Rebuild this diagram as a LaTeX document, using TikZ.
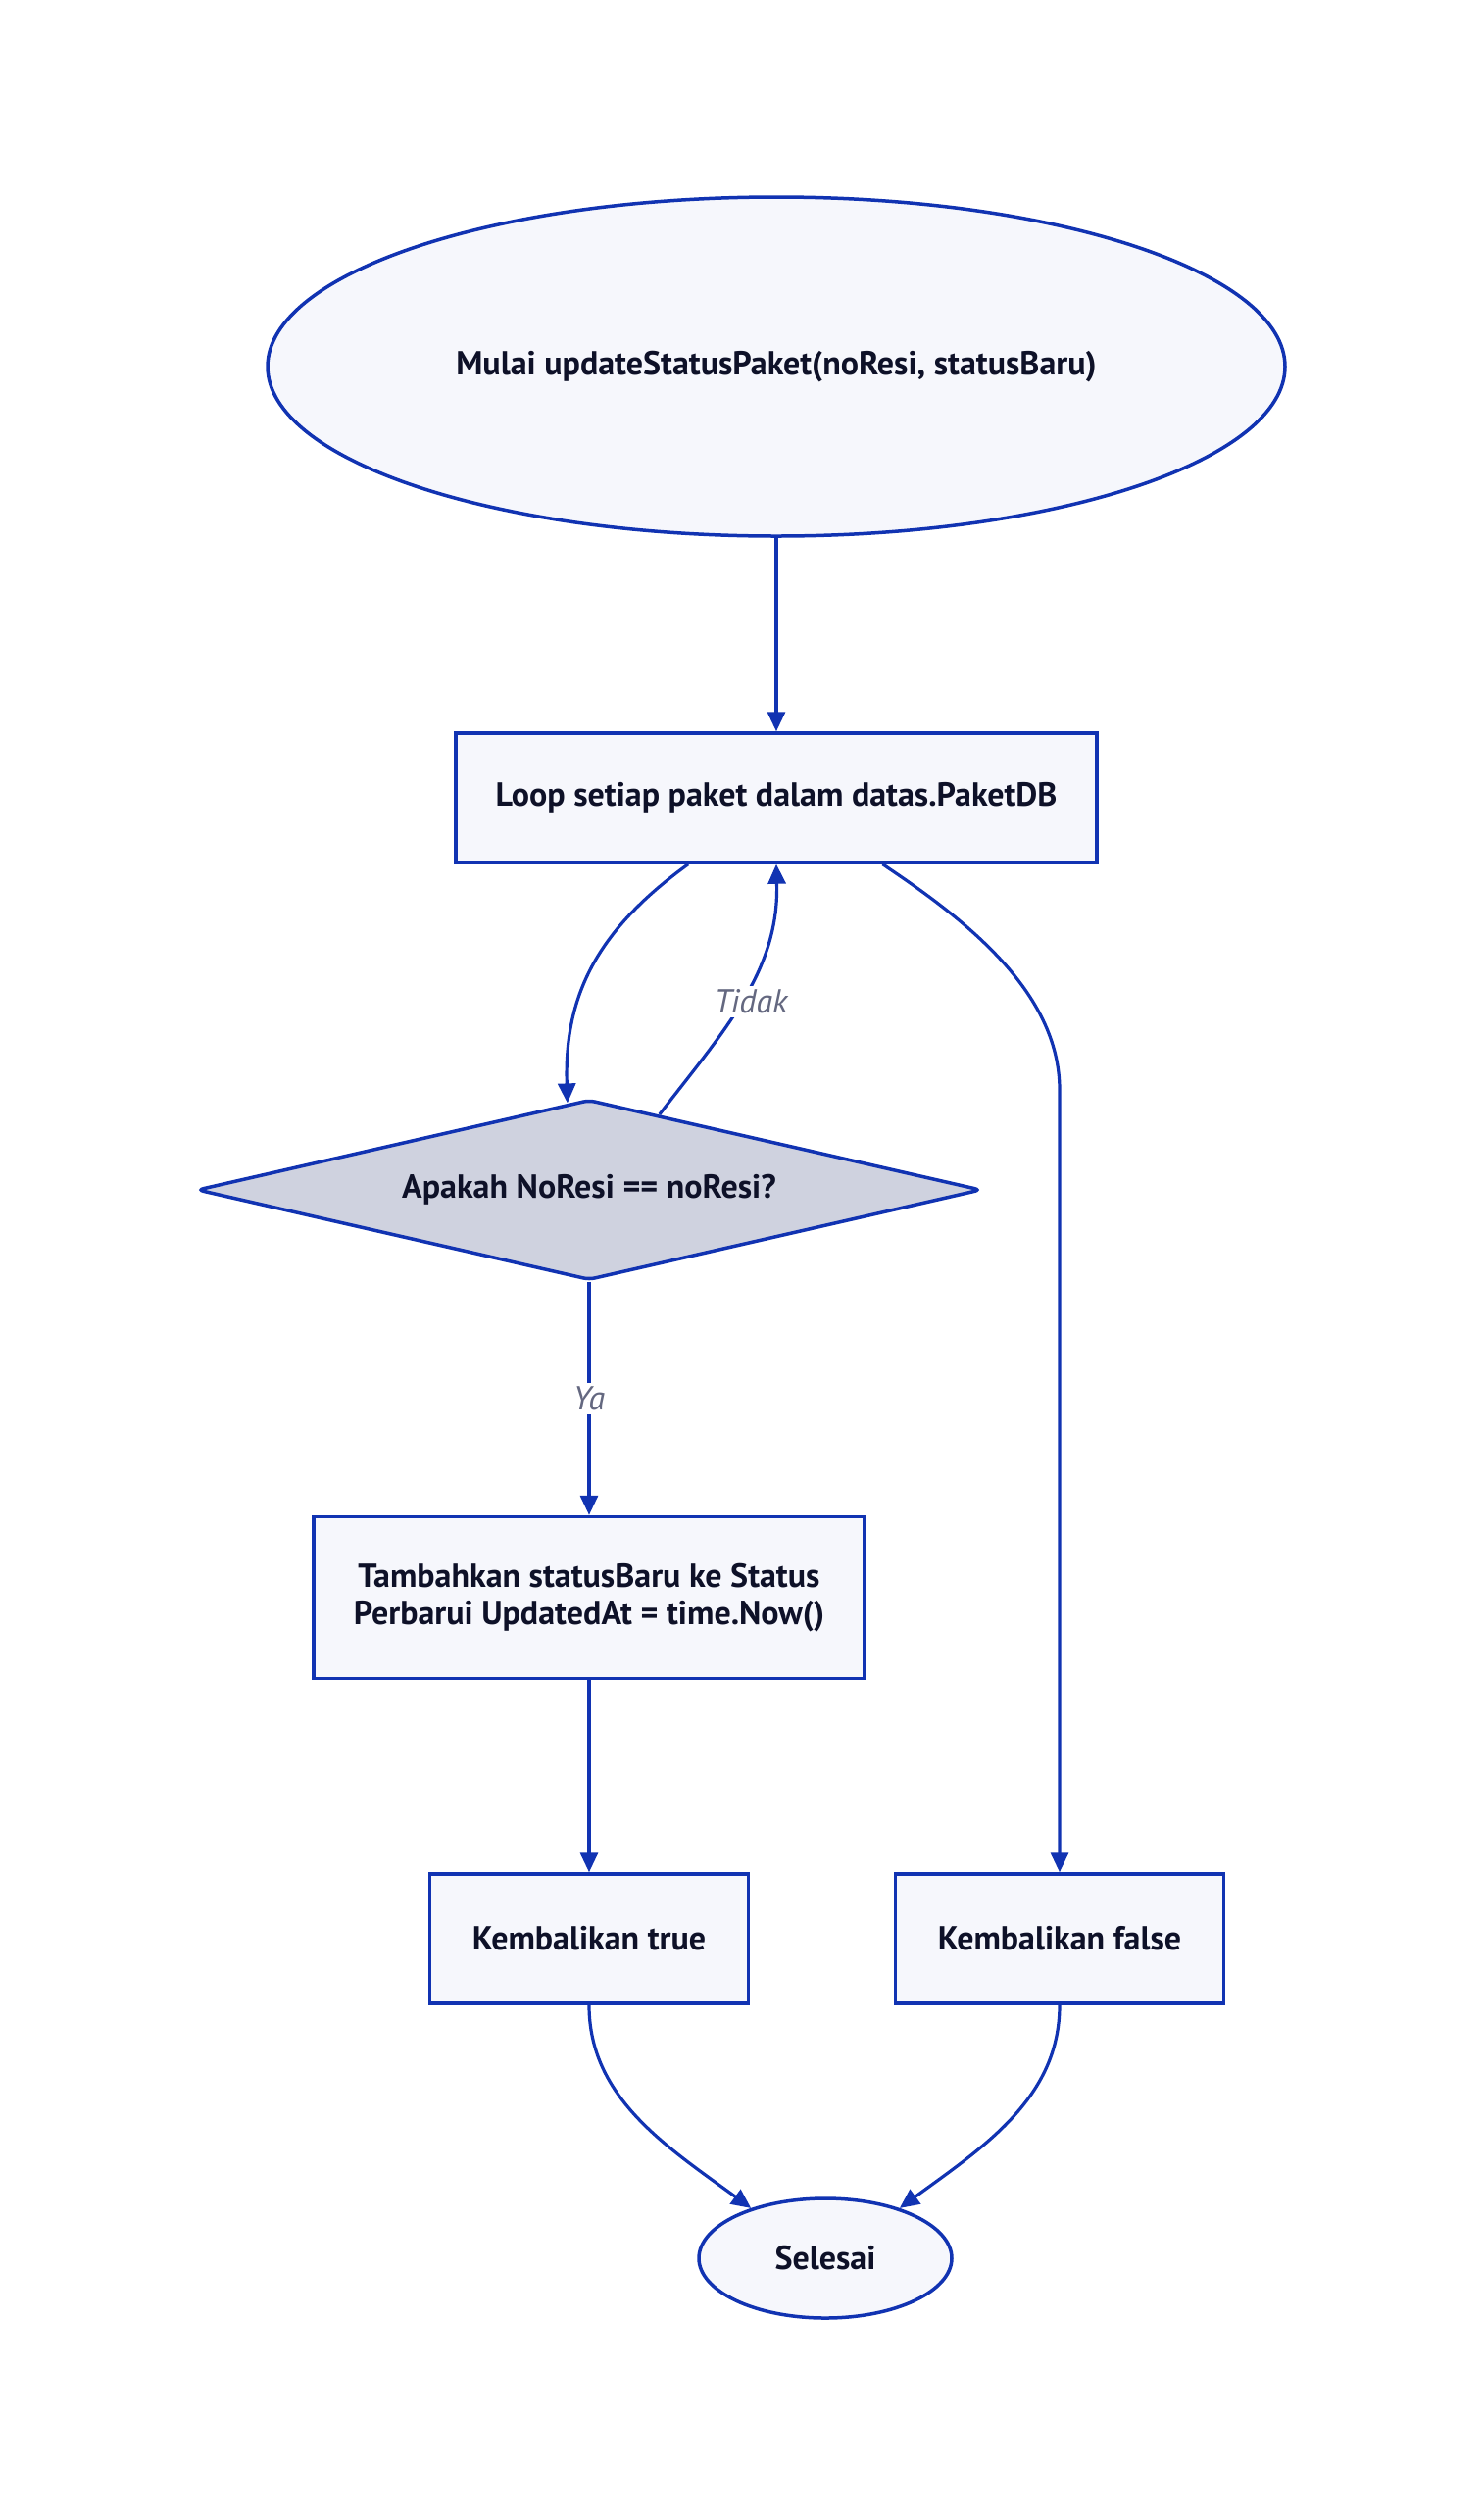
\documentclass[tikz,border=0pt]{standalone}
\usepackage{fontspec}
\setmainfont{PT Sans}
\usetikzlibrary{shapes.geometric,arrows.meta,calc}
\definecolor{edgeblue}{RGB}{17,51,178}
\definecolor{nodefill}{RGB}{246,247,252}
\definecolor{decfill}{RGB}{207,210,223}
\definecolor{txt}{RGB}{14,17,40}
\definecolor{lbl}{RGB}{100,104,128}
\begin{document}
\begin{tikzpicture}[x=1pt,y=-1pt,
  nodetext/.style={text=txt, align=center, font=\fontsize{34}{38}\selectfont\bfseries},
  box/.style={nodetext, rectangle, draw=edgeblue, line width=3.5pt, fill=nodefill, inner sep=0pt},
  oval/.style={nodetext, ellipse, draw=edgeblue, line width=3.5pt, fill=nodefill, inner sep=0pt},
  dec/.style={nodetext, diamond, aspect=4.35, draw=edgeblue, line width=3.5pt, fill=decfill, inner sep=0pt, rounded corners=6pt},
  conn/.style={draw=edgeblue, line width=3.2pt, -{Triangle[length=20pt,width=18pt]}},
  lab/.style={fill=white, text=lbl, inner sep=4pt, font=\fontsize{34}{38}\selectfont\itshape}
]
\fill[white] (0,0) rectangle (1514,2568);
\useasboundingbox (0,0) rectangle (1514,2568);

\node[oval, minimum width=1038pt, minimum height=346pt] (start) at (792,374) {Mulai updateStatusPaket(noResi, statusBaru)};
\node[box, minimum width=654pt, minimum height=132pt] (loop) at (792,814) {Loop setiap paket dalam datas.PaketDB};
\node[dec, minimum width=800pt, minimum height=184pt] (dec) at (601,1214) {Apakah NoResi == noResi?};
\node[box, minimum width=562pt, minimum height=165pt] (tambah) at (601,1630) {Tambahkan statusBaru ke Status\\Perbarui UpdatedAt = time.Now()};
\node[box, minimum width=325pt, minimum height=132pt] (ktrue) at (601,1978) {Kembalikan true};
\node[box, minimum width=335pt, minimum height=132pt] (kfalse) at (1081,1978) {Kembalikan false};
\node[oval, minimum width=258pt, minimum height=122pt] (selesai) at (842,2304) {Selesai};

\draw[conn] (start.south) -- (loop.north);
\draw[conn] (loop.217) .. controls (615,945) and (575,1010) .. (dec.104);
\draw[conn] (dec.47) .. controls (740,1050) and (795,990) .. (loop.south) node[lab, pos=0.48, xshift=10pt] {Tidak};
\draw[conn] (loop.328) .. controls (980,935) and (1081,1010) .. (1081,1112) -- (kfalse.north);
\draw[conn] (dec.south) -- node[lab] {Ya} (tambah.north);
\draw[conn] (tambah.south) -- (ktrue.north);
\draw[conn] (ktrue.south) .. controls (601,2140) and (680,2190) .. (selesai.146);
\draw[conn] (kfalse.south) .. controls (1081,2140) and (1004,2190) .. (selesai.34);
\end{tikzpicture}
\end{document}
